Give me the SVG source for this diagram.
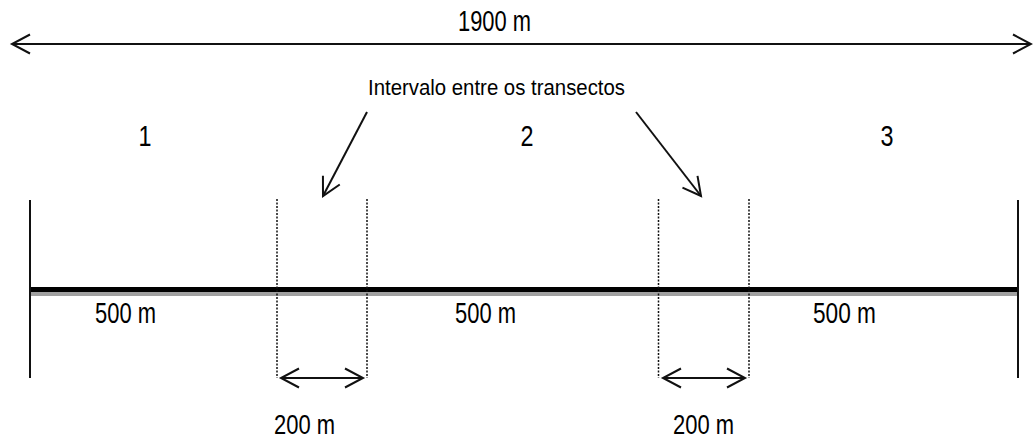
<svg xmlns="http://www.w3.org/2000/svg" width="1033" height="439" viewBox="0 0 1033 439">
<style>
text{font-family:"Liberation Sans Narrow","Liberation Sans",Arial,sans-serif;fill:#000}
.ln{stroke:#111;stroke-width:2;fill:none}
.dot{stroke:#111;stroke-width:1.5;stroke-dasharray:2 1.5;fill:none}
.arr{stroke:#111;stroke-width:2;fill:none;marker-start:url(#oh);marker-end:url(#oh)}
.arr1{stroke:#111;stroke-width:2;fill:none;marker-end:url(#oh)}
</style>
<defs>
<marker id="oh" markerUnits="userSpaceOnUse" viewBox="-22 -12 26 24" refX="0" refY="0" markerWidth="26" markerHeight="24" orient="auto-start-reverse" overflow="visible">
<path d="M-18,-9.5 L0,0 L-18,9.5" fill="none" stroke="#111" stroke-width="2" stroke-linejoin="miter"/>
</marker>
</defs>
<g id="baseline">
<rect x="30" y="287" width="988" height="5" fill="#000"/>
<rect x="30" y="292" width="988" height="4" fill="#a0a0a0"/>
<line class="ln" x1="30" y1="200" x2="30" y2="378"/>
<line class="ln" x1="1018" y1="200" x2="1018" y2="378"/>
</g>
<g id="intervals">
<line class="dot" x1="277" y1="199" x2="277" y2="378"/>
<line class="dot" x1="367" y1="199" x2="367" y2="378"/>
<line class="dot" x1="658.5" y1="199" x2="658.5" y2="378"/>
<line class="dot" x1="749" y1="199" x2="749" y2="378"/>
</g>
<g id="connectors">
<line class="arr" x1="12" y1="44" x2="1031" y2="44"/>
<line class="arr" x1="281" y1="378" x2="363" y2="378"/>
<line class="arr" x1="663" y1="378" x2="745" y2="378"/>
<line class="arr1" x1="367" y1="112" x2="323" y2="196"/>
<line class="arr1" x1="636" y1="112" x2="701" y2="196"/>
</g>
<g id="labels">
<text x="458" y="31" font-size="29" textLength="73" lengthAdjust="spacingAndGlyphs">1900 m</text>
<text x="368" y="95" font-size="22" textLength="257" lengthAdjust="spacingAndGlyphs">Intervalo entre os transectos</text>
<text x="138.5" y="146" font-size="29" textLength="13" lengthAdjust="spacingAndGlyphs">1</text>
<text x="520.5" y="146" font-size="29" textLength="13" lengthAdjust="spacingAndGlyphs">2</text>
<text x="880.5" y="146" font-size="29" textLength="13" lengthAdjust="spacingAndGlyphs">3</text>
<text x="95" y="323" font-size="29" textLength="61" lengthAdjust="spacingAndGlyphs">500 m</text>
<text x="455" y="323" font-size="29" textLength="61" lengthAdjust="spacingAndGlyphs">500 m</text>
<text x="813" y="323" font-size="29" textLength="63" lengthAdjust="spacingAndGlyphs">500 m</text>
<text x="274" y="434" font-size="28" textLength="61" lengthAdjust="spacingAndGlyphs">200 m</text>
<text x="673" y="434" font-size="28" textLength="61" lengthAdjust="spacingAndGlyphs">200 m</text>
</g>
</svg>
